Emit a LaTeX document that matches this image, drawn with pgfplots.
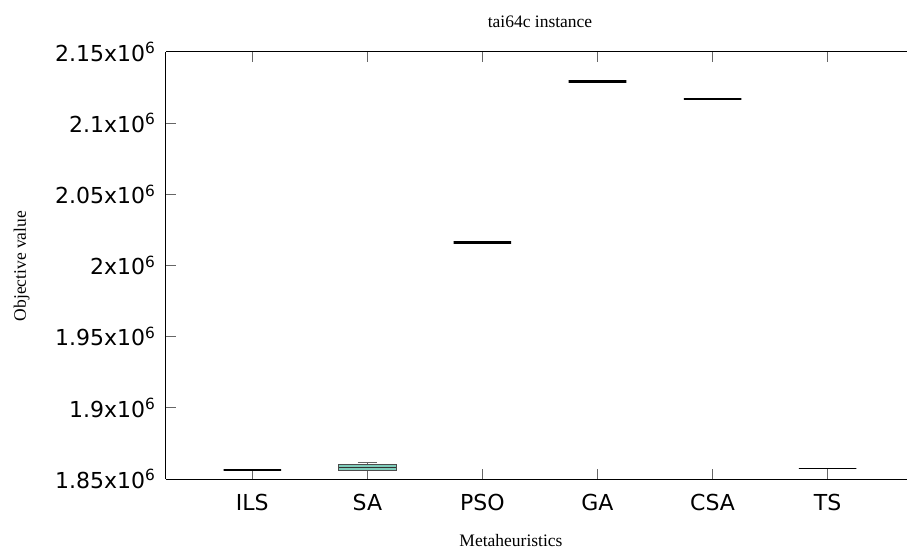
\documentclass[border=0pt]{standalone}
\usepackage{pgfplots}
\pgfplotsset{compat=1.18}
\usepgfplotslibrary{statistics}
\usepackage{fontspec}
\setmainfont{Liberation Serif}
\newfontfamily\dejavu{DejaVu Sans}
\definecolor{boxfill}{RGB}{127,205,187}
\begin{document}
\begin{tikzpicture}
\path[use as bounding box] (-166pt,-70pt) rectangle (741pt,479pt);
\begin{axis}[
  at={(0pt,0pt)}, anchor=south west,
  scale only axis, width=741pt, height=427pt,
  xmin=0.25, xmax=6.69, ymin=1.85, ymax=2.15,
  axis x line*=box, axis y line*=left,
  x axis line style={-, line width=1pt},
  y axis line style={-, line width=1pt},
  xtick={1,2,3,4,5,6},
  xticklabels={ILS,SA,PSO,GA,CSA,TS},
  ytick={1.85,1.9,1.95,2,2.05,2.1,2.15},
  yticklabels={1.85x10\textsuperscript{6},1.9x10\textsuperscript{6},1.95x10\textsuperscript{6},2x10\textsuperscript{6},2.05x10\textsuperscript{6},2.1x10\textsuperscript{6},2.15x10\textsuperscript{6}},
  tick align=inside, major tick length=10pt,
  tick style={black!60, line width=1pt},
  ticklabel style={font=\dejavu\fontsize{22}{26}\selectfont},
  yticklabel style={xshift=-7pt},
  xticklabel style={yshift=-12pt},
  boxplot/draw direction=y,
  boxplot/box extend=0.5,
  boxplot/whisker extend=0,
  boxplot/every box/.style={draw=black, line width=2.4pt},
  boxplot/every median/.style={draw=black, line width=2.4pt},
  boxplot/every whisker/.style={draw=black!60, line width=1pt},
  clip=false,
]
% values in units of 10^6
% ILS
\addplot[boxplot prepared={draw position=1, median=1.8565, lower quartile=1.8565, upper quartile=1.8565, lower whisker=1.8565, upper whisker=1.8565},
  mark=none] coordinates {};
% SA
\addplot[boxplot prepared={draw position=2, median=1.8582, lower quartile=1.8558, upper quartile=1.8605, lower whisker=1.8558, upper whisker=1.8617},
  boxplot/whisker extend=0.17,
  boxplot/every box/.style={draw=black!70, fill=boxfill, line width=1pt},
  boxplot/every median/.style={draw=black!80, line width=1pt},
  mark=none] coordinates {};
% PSO
\addplot[boxplot prepared={draw position=3, median=2.0163, lower quartile=2.0163, upper quartile=2.0163, lower whisker=2.0163, upper whisker=2.0163},
  mark=none] coordinates {};
% GA
\addplot[boxplot prepared={draw position=4, median=2.1292, lower quartile=2.1292, upper quartile=2.1292, lower whisker=2.1292, upper whisker=2.1292},
  mark=none] coordinates {};
% CSA
\addplot[boxplot prepared={draw position=5, median=2.1170, lower quartile=2.1170, upper quartile=2.1170, lower whisker=2.1170, upper whisker=2.1170},
  mark=none] coordinates {};
% TS
\addplot[boxplot prepared={draw position=6, median=1.8575, lower quartile=1.8575, upper quartile=1.8575, lower whisker=1.8575, upper whisker=1.8575},
  boxplot/every box/.style={draw=black, line width=1.5pt},
  boxplot/every median/.style={draw=black, line width=1.5pt},
  mark=none] coordinates {};
\end{axis}
\node[anchor=base, font=\fontsize{17.5}{20}\selectfont] at (374pt,451pt) {tai64c instance};
\node[anchor=base, rotate=90, font=\fontsize{17.5}{20}\selectfont] at (-140pt,213pt) {Objective value};
\node[anchor=base, font=\fontsize{17.5}{20}\selectfont] at (345pt,-67pt) {Metaheuristics};
\end{tikzpicture}
\end{document}
